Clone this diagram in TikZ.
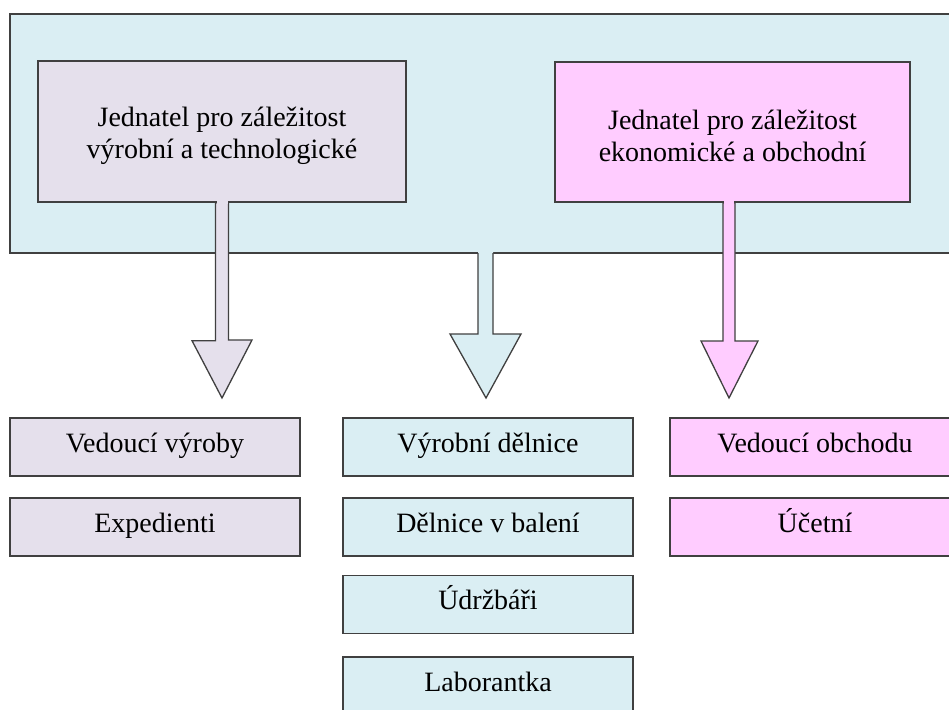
\documentclass[tikz,border=0pt]{standalone}
\usepackage{fontspec}
\setmainfont{Liberation Serif}
\definecolor{aqua}{HTML}{DAEEF3}
\definecolor{lav}{HTML}{E5E0EC}
\definecolor{pinkc}{HTML}{FFCCFF}
\definecolor{edge}{HTML}{404040}
\tikzset{
  box/.style={draw=edge, line width=1.3pt, inner sep=0pt, align=center,
    font=\fontsize{28}{32}\selectfont},
  topbox/.style={box, minimum width=#1, minimum height=140pt},
  toptext/.style={align=center, inner sep=0pt, font=\fontsize{28}{32}\selectfont},
  lowbox/.style={box, minimum width=290pt, minimum height=58pt, text height=18pt, text depth=8pt},
  blockarrow/.style={draw=edge, line width=1.3pt, line join=miter},
}
\begin{document}
\begin{tikzpicture}[x=1pt,y=-1pt]
\clip (0,0) rectangle (949,709);
\fill[white] (0,0) rectangle (949,709);
% outer container
\node[box, fill=aqua, minimum width=965pt, minimum height=239pt] (outer) at (492.5,133.5) {};
% middle arrow fused with outer box
\coordinate (ms1) at (478,253);
\coordinate (ms2) at (493,253);
\fill[aqua] (478,250) -- (493,250) -- (493,334) -- (521,334) -- (486,398) -- (450,334) -- (478,334) -- cycle;
\draw[blockarrow] (ms2) -- (493,334) -- (521,334) -- (486,398) -- (450,334) -- (478,334) -- (ms1);
\fill[aqua] (479,248) rectangle (492,254.5);
% top boxes
\node[topbox=368pt, fill=lav, minimum height=141pt] (ltop) at (222,131.5) {};
\node[toptext] (ltoptext) at (222,136) {Jednatel pro záležitost\\výrobní a technologické};
\node[topbox=355pt, fill=pinkc] (rtop) at (732.5,132) {};
\node[toptext] (rtoptext) at (732.5,136) {Jednatel pro záležitost\\ekonomické a obchodní};
% bottom boxes
\node[lowbox, fill=lav] (l1) at (155,447) {Vedoucí výroby};
\node[lowbox, fill=lav] (l2) at (155,527) {Expedienti};
\node[lowbox, fill=aqua] (m1) at (488,447) {Výrobní dělnice};
\node[lowbox, fill=aqua] (m2) at (488,527) {Dělnice v balení};
\node[lowbox, fill=aqua] (m3) at (488,604.5) {Údržbáři};
\node[lowbox, fill=aqua] (m4) at (488,686) {Laborantka};
\node[lowbox, fill=pinkc] (r1) at (815,447) {Vedoucí obchodu};
\node[lowbox, fill=pinkc] (r2) at (815,527) {Účetní};
% left block arrow
\draw[blockarrow, fill=lav] ([xshift=-6.5pt]ltop.south) -- ++(0,138) -- ++(-23.5,0) -- (222,398) -- (252,340) -- ([xshift=6.5pt]ltop.south |- 0,340) -- ([xshift=6.5pt]ltop.south) -- cycle;
% right block arrow
\draw[blockarrow, fill=pinkc] ([xshift=-9.5pt]rtop.south) -- (723,341) -- (701,341) -- (729,398) -- (758,341) -- (735,341) -- ([xshift=2.5pt]rtop.south) -- cycle;
\fill[pinkc] (724,199) rectangle (734,204);
\fill[lav] (216.5,199) rectangle (227.5,204);
\end{tikzpicture}
\end{document}
